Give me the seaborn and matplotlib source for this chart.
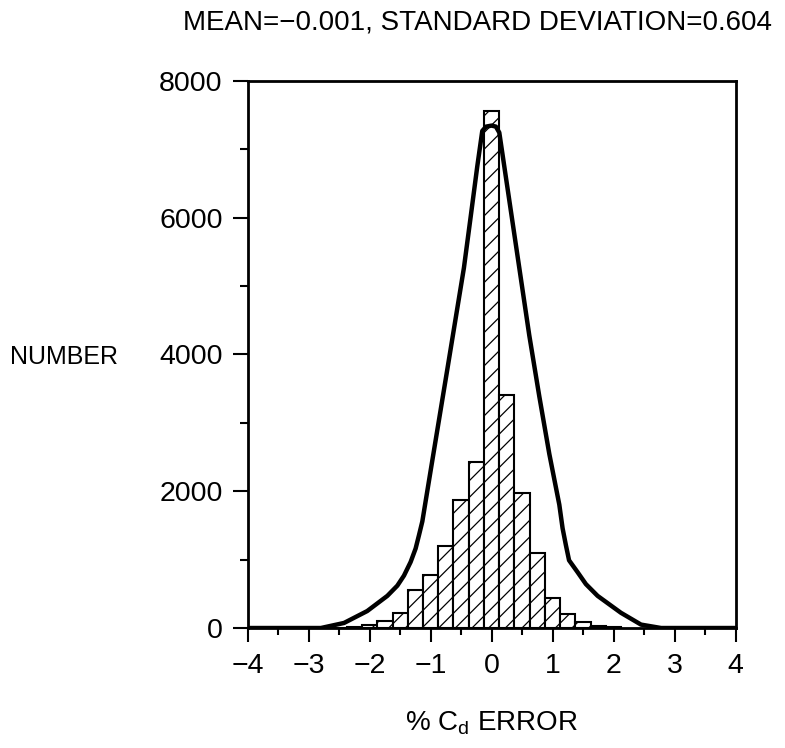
import numpy as np
import pandas as pd
import seaborn as sns
import matplotlib.pyplot as plt
from matplotlib.ticker import MultipleLocator

# histogram bins (centre of each 0.25-wide bin) and counts
bin_centers = [-2.5, -2.25, -2.0, -1.75, -1.5, -1.25, -1.0, -0.75, -0.5, -0.25,
               0.0, 0.25, 0.5, 0.75, 1.0, 1.25, 1.5, 1.75, 2.0]
counts = [6, 15, 45, 105, 215, 550, 780, 1205, 1870, 2425,
          7555, 3405, 1970, 1095, 432, 203, 88, 32, 8]
bin_width = 0.25

# fitted curve
curve_x = [-4.0, -3.0, -2.8, -2.42, -2.04, -1.71, -1.546, -1.437, -1.328, -1.246,
           -1.19, -1.136, -1.0, -0.863, -0.726, -0.59, -0.454, -0.344, -0.235,
           -0.153, -0.09, 0.0, 0.07, 0.126, 0.29, 0.454, 0.618, 0.782, 0.946,
           1.11, 1.164, 1.218, 1.27, 1.41, 1.546, 1.738, 2.12, 2.45, 2.78, 3.0, 4.0]
curve_y = [0, 0, 0, 74, 248, 470, 619, 766, 965, 1162,
           1360, 1558, 2299, 3041, 3782, 4524, 5265, 6007, 6749,
           7267, 7330, 7345, 7330, 7243, 6254, 5265, 4277, 3387, 2546,
           1804, 1458, 1212, 990, 816, 642, 470, 223, 50, 0, 0, 0]

title = "MEAN=\u22120.001, STANDARD DEVIATION=0.604"

sns.set_style("ticks")
plt.rcParams["font.family"] = ["Liberation Sans", "DejaVu Sans"]
plt.rcParams["mathtext.fontset"] = "custom"
plt.rcParams["mathtext.rm"] = "Liberation Sans"
plt.rcParams["hatch.linewidth"] = 0.9
plt.rcParams["text.color"] = "black"
plt.rcParams["axes.labelcolor"] = "black"
plt.rcParams["xtick.color"] = "black"
plt.rcParams["ytick.color"] = "black"
plt.rcParams["axes.edgecolor"] = "black"

fig = plt.figure(figsize=(7.85, 7.48), dpi=100)
ax = fig.add_axes([0.3155, 0.1604, 0.937 - 0.3155, 0.892 - 0.1604])

hist_df = pd.DataFrame({"err": bin_centers, "n": counts})
lo = min(bin_centers) - bin_width / 2
hi = max(bin_centers) + bin_width / 2
sns.histplot(data=hist_df, x="err", weights="n", binwidth=bin_width,
             binrange=(lo, hi), ax=ax, color="white", edgecolor="black",
             linewidth=1.5, alpha=1, hatch="//", fill=True)

curve_df = pd.DataFrame({"x": curve_x, "y": curve_y})
sns.lineplot(data=curve_df, x="x", y="y", ax=ax, color="black", lw=3.2,
             sort=False, estimator=None)

ax.set_xlim(-4, 4)
ax.set_ylim(0, 8000)
ax.xaxis.set_major_locator(MultipleLocator(1))
ax.xaxis.set_minor_locator(MultipleLocator(0.5))
ax.yaxis.set_major_locator(MultipleLocator(2000))
ax.yaxis.set_minor_locator(MultipleLocator(1000))
ax.tick_params(axis="x", which="major", length=10, width=1.5, labelsize=20.5, pad=8)
ax.tick_params(axis="x", which="minor", length=5, width=1.5)
ax.tick_params(axis="y", which="major", length=11, width=1.5, labelsize=20.5, pad=7)
ax.tick_params(axis="y", which="minor", length=6, width=1.5)
for s in ax.spines.values():
    s.set_visible(True)
    s.set_linewidth(2)

ax.set_xlabel(r"% C$_{\mathrm{d}}$ ERROR", fontsize=20, labelpad=22)
ax.set_ylabel("")
fig.text(0.0815, 0.523, "NUMBER", fontsize=18, ha="center", va="center")
fig.text(0.608, 0.97, title, fontsize=20, ha="center", va="center")

fig.savefig("out.png", dpi=100)
